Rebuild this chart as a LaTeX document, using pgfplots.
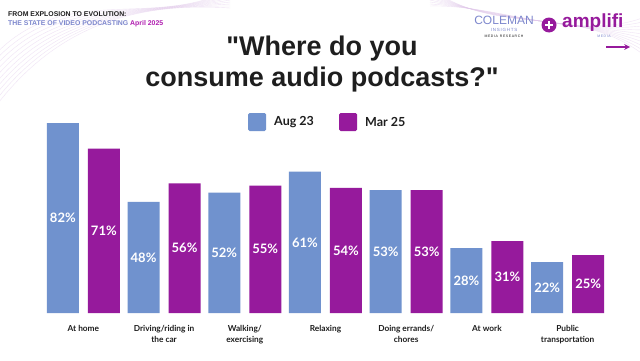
\documentclass[border=0pt]{standalone}
\usepackage{pgfplots}
\pgfplotsset{compat=1.18}
\usepackage{fontspec}
\setmainfont{Liberation Sans}
\newfontfamily\titlefont{Liberation Sans}
\newfontfamily\lato{Lato}
\definecolor{cblue}{RGB}{112,146,206}
\definecolor{cpurp}{RGB}{150,26,156}
\definecolor{cdark}{RGB}{30,30,30}
\definecolor{csub}{RGB}{125,135,205}
\definecolor{cmag}{RGB}{176,30,176}
\definecolor{cswoosh}{RGB}{225,200,235}
\begin{document}
\begin{tikzpicture}[x=1pt,y=1pt]
\path[fill=white] (0,0) rectangle (640,360);
% faint swooshes
\begin{scope}
\clip (0,0) rectangle (640,360);
\foreach \k in {0,...,9}{
  \draw[cswoosh,opacity=0.5,line width=0.4pt] (-10,{300-\k*6}) .. controls (60,{380-\k*4}) and (150,{330+\k*3}) .. (230,{370-\k*2});
  \draw[cswoosh,opacity=0.5,line width=0.4pt] (430,{372-\k*2}) .. controls (500,{320+\k*4}) and (580,{360-\k*5}) .. (650,{300+\k*5});
}
\end{scope}
% header text
\node[anchor=west,inner sep=0,font=\fontsize{6.9}{7}\selectfont\bfseries,text=cdark] at (8,346) {FROM EXPLOSION TO EVOLUTION:};
\node[anchor=west,inner sep=0,font=\fontsize{6.9}{7}\selectfont\bfseries] at (8,336) {\textcolor{csub}{THE STATE OF VIDEO PODCASTING} \textcolor{cmag}{April 2025}};
% logos
\node[inner sep=0,font=\fontsize{12}{12}\selectfont,text=csub] at (504,340) {COLEMAN};
\node[inner sep=0,font=\fontsize{4.5}{5}\selectfont,text=csub] at (504,330) {I\,N\,S\,I\,G\,H\,T\,S};
\node[inner sep=0,font=\fontsize{3.5}{4}\selectfont,text=cdark] at (504,324) {M\,E\,D\,I\,A\ \ R\,E\,S\,E\,A\,R\,C\,H};
\fill[cpurp] (549,335) circle (7.5);
\draw[white,line width=2pt] (545,335) -- (553,335) (549,331) -- (549,339);
\node[anchor=west,inner sep=0,font=\fontsize{19}{19}\selectfont\bfseries,text=cpurp] at (562,337) {amplifi};
\node[inner sep=0,font=\fontsize{3.5}{4}\selectfont,text=csub] at (604,324) {M\,E\,D\,I\,A};
\draw[cpurp,line width=1.5pt,-stealth] (606,313) -- (630,313);
% title
\node[inner sep=0,font=\titlefont\fontsize{27}{31}\selectfont\bfseries,text=cdark,align=center] at (322,296) {"Where do you\\consume audio podcasts?"};
% legend
\fill[cblue,rounded corners=1.5pt] (248,229) rectangle (266,247);
\node[anchor=west,inner sep=0,font=\lato\fontsize{12.5}{13}\selectfont\bfseries,text=cdark] at (274,238) {Aug 23};
\fill[cpurp,rounded corners=1.5pt] (339,229) rectangle (357,247);
\node[anchor=west,inner sep=0,font=\lato\fontsize{12.5}{13}\selectfont\bfseries,text=cdark] at (365,238) {Mar 25};
\begin{axis}[
  at={(43pt,47pt)}, anchor=south west,
  scale only axis, width=565pt, height=208.5pt,
  xmin=-0.5, xmax=6.5, ymin=0, ymax=90,
  ybar, bar width=32pt,
  axis line style={draw=none}, tick style={draw=none},
  ytick=\empty,
  xtick={0,...,6},
  xticklabels={At home,{Driving/riding in\\the car},{Walking/\\exercising},Relaxing,{Doing errands/\\chores},At work,{Public\\transportation}},
  xticklabel style={align=center,font=\lato\fontsize{8.3}{11}\selectfont\bfseries,text=cdark,yshift=-5pt,anchor=north},
  clip=false,
  /pgf/number format/assume math mode=true,
  nodes near coords align={center},
]
\addplot[fill=cblue,draw=none,bar shift=-20.5pt] coordinates {(0,82) (1,48) (2,52) (3,61) (4,53) (5,28) (6,22)};
\addplot[fill=cpurp,draw=none,bar shift=20.5pt] coordinates {(0,71) (1,56) (2,55) (3,54) (4,53) (5,31) (6,25)};
\addplot[draw=none,fill=none,bar shift=-20.5pt,nodes near coords={\pgfmathprintnumber{\pgfplotspointmeta}\%},point meta=explicit,
  every node near coord/.append style={anchor=center,text=white,font=\lato\fontsize{13}{13}\selectfont\bfseries}]
  table[meta=v,y expr=\thisrow{v}/2] {x v
0 82
1 48
2 52
3 61
4 53
5 28
6 22
};
\addplot[draw=none,fill=none,bar shift=20.5pt,nodes near coords={\pgfmathprintnumber{\pgfplotspointmeta}\%},point meta=explicit,
  every node near coord/.append style={anchor=center,text=white,font=\lato\fontsize{13}{13}\selectfont\bfseries}]
  table[meta=v,y expr=\thisrow{v}/2] {x v
0 71
1 56
2 55
3 54
4 53
5 31
6 25
};
\end{axis}
\end{tikzpicture}
\end{document}
